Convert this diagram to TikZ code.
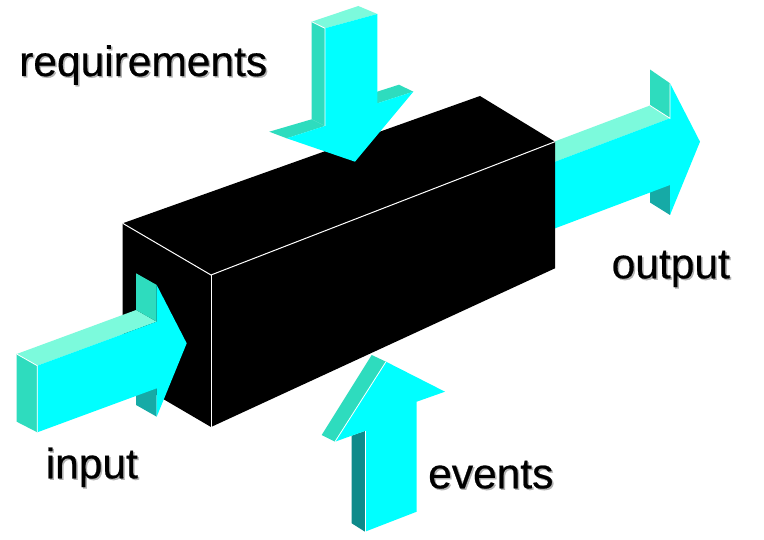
\documentclass[tikz,border=0pt]{standalone}
\usepackage{fontspec}
\setmainfont{Liberation Sans}
\newfontfamily\lblfont[FakeBold=0.5]{Liberation Sans}
\definecolor{acyan}{HTML}{00FFFF}
\definecolor{atop}{HTML}{7CFADC}
\definecolor{aside}{HTML}{2EDCBE}
\definecolor{adark}{HTML}{16AAA6}
\definecolor{adeep}{HTML}{0E8A8A}
\begin{document}
\begin{tikzpicture}[x=1pt,y=-1pt,
  edge/.style={draw=white, line width=0.8pt},
  lbl/.style={anchor=base west, inner sep=0pt, text=black, font=\lblfont\fontsize{42.5}{50}\selectfont},
  shad/.style={lbl, text=black!30}]
\useasboundingbox (0,0) rectangle (764,540);
\fill[white] (0,0) rectangle (764,540);

% ---------- output arrow (behind the box) ----------
\fill[atop]  (540,167.4) -- (670,118.3) -- (650,105.5) -- (520,154.6) -- cycle;
\fill[aside] (670,83.3) -- (670,118.3) -- (650,105.5) -- (650,69.5) -- cycle;
\fill[adark] (670,185) -- (670,215) -- (650,202.5) -- (650,172.5) -- cycle;
\fill[acyan] (540,167.4) -- (670,118.3) -- (670,83.3) -- (700,141.7) -- (670,215) -- (670,185) -- (540,234) -- cycle;
\draw[edge] (650,105.5) -- (670,118.3) -- (670,83.3);

% ---------- box ----------
\fill[black] (122.7,223.3) -- (480,96) -- (555,141.7) -- (555,268.3) -- (211,427) -- (122.7,375.3) -- cycle;
\draw[white, line width=1pt] (122.7,223.3) -- (211,275) -- (555,141.7);
\draw[white, line width=1pt] (211,275) -- (211,427);

% ---------- input arrow ----------
\fill[aside] (16.7,354) -- (37.3,365.7) -- (37.3,432.3) -- (16.7,421.7) -- cycle;
\fill[atop]  (16.7,354) -- (136.1,310) -- (156.7,321.7) -- (37.3,365.7) -- cycle;
\fill[aside] (136.1,273.3) -- (156.7,285) -- (156.7,321.7) -- (136.1,310) -- cycle;
\fill[adark] (136.1,376.6) -- (156.7,388.3) -- (156.7,416.7) -- (136.1,405) -- cycle;
\fill[acyan] (37.3,365.7) -- (156.7,321.7) -- (156.7,285) -- (186.7,343.3) -- (156.7,416.7) -- (156.7,388.3) -- (37.3,432.3) -- cycle;
\draw[edge] (16.7,354) -- (37.3,365.7) -- (37.3,432.3);

% ---------- requirements arrow ----------
\fill[atop]  (311.7,21.7) -- (358.3,6) -- (377.3,14) -- (325,28.3) -- cycle;
\fill[aside] (311.7,21.7) -- (325,28.3) -- (325,126) -- (311.7,119.3) -- cycle;
\fill[aside] (311.7,119.3) -- (325,126) -- (286.7,138.3) -- (269.3,131.7) -- cycle;
\fill[aside] (362.8,96.3) -- (399,84.7) -- (413.3,91.7) -- (377.3,103.3) -- cycle;
\fill[acyan] (325,28.3) -- (377.3,14) -- (377.3,103.3) -- (413.3,91.7) -- (355,161.7) -- (286.7,138.3) -- (325,126) -- cycle;
\draw[edge] (311.7,21.7) -- (325,28.3) -- (325,126);

% ---------- events arrow ----------
\fill[aside] (321.7,435) -- (371.7,355) -- (386,361.7) -- (335,441.7) -- cycle;
\fill[adeep] (351.7,435.7) -- (365,430.9) -- (365,531.7) -- (351.7,523.3) -- cycle;
\fill[acyan] (365,531.7) -- (416.7,511.7) -- (416.7,401.7) -- (445,391.7) -- (386,361.7) -- (335,441.7) -- (365,430.9) -- cycle;
\draw[edge] (386,361.7) -- (335,441.7);
\draw[edge] (365,430.9) -- (365,531.7);

% ---------- labels ----------
\node[shad] (reqs) at (20.5,77.5) {requirements};
\node[shad] (outs) at (613,279.8) {output};
\node[shad] (inps) at (47,479.8) {input};
\node[shad] (evts) at (429.5,489.8) {events};
\node[lbl] (req) at (19,76) {requirements};
\node[lbl] (out) at (611.5,278.3) {output};
\node[lbl] (inp) at (45.5,478.3) {input};
\node[lbl] (evt) at (428,488.3) {events};
\end{tikzpicture}
\end{document}
